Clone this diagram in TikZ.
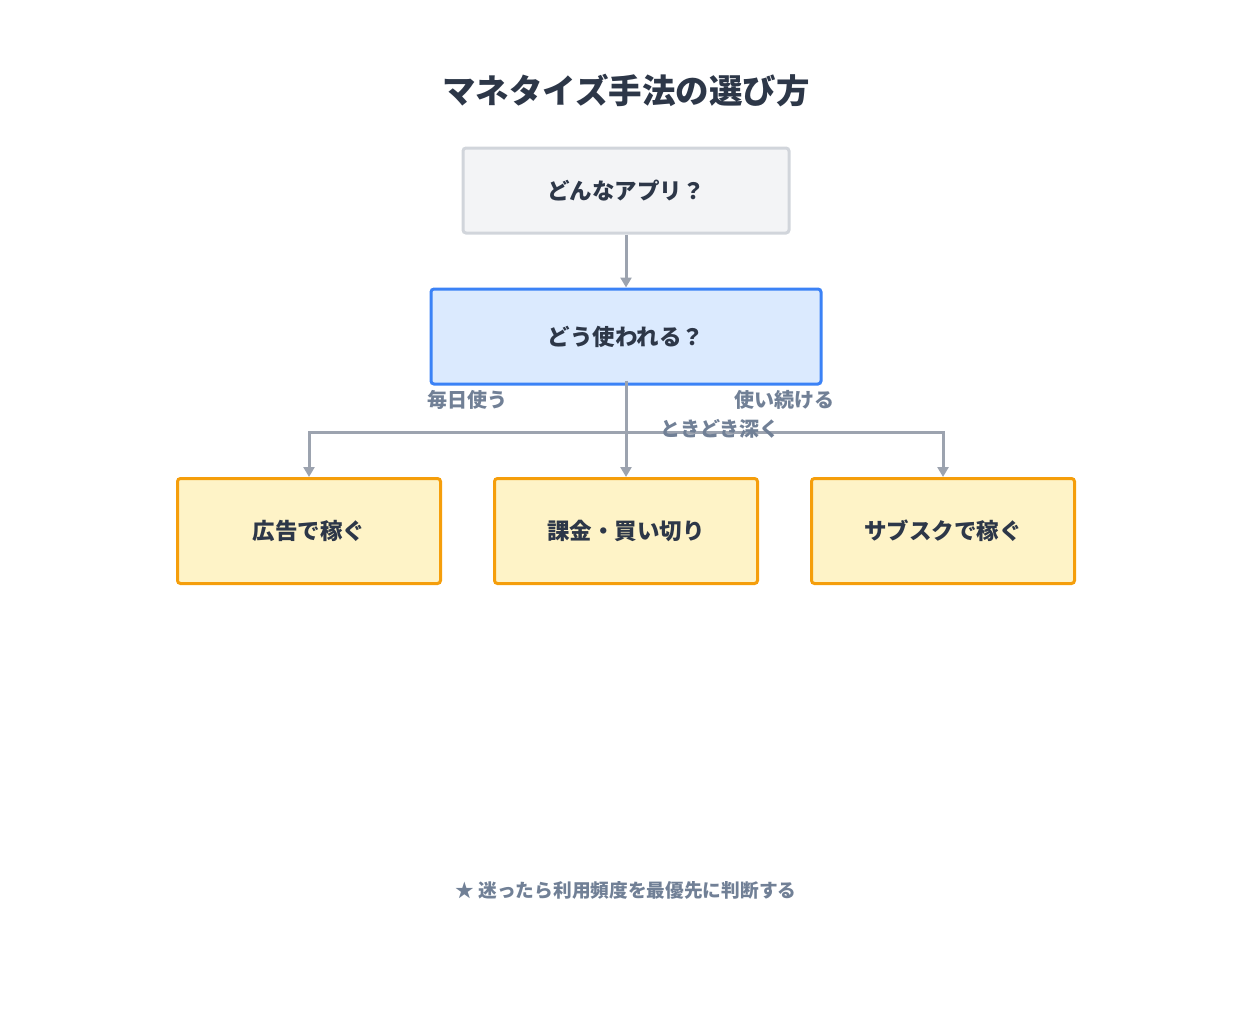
\documentclass[tikz,border=0pt]{standalone}
\usepackage{fontspec}
\setmainfont{Noto Sans CJK JP}
\usepackage{xcolor}
\usepackage{tikz}
\usetikzlibrary{arrows.meta,positioning}
\definecolor{inkc}{HTML}{2D3748}
\definecolor{labc}{HTML}{718096}
\definecolor{linec}{HTML}{9CA3AF}
\definecolor{grayfill}{HTML}{F3F4F6}
\definecolor{grayedge}{HTML}{D1D5DB}
\definecolor{bluefill}{HTML}{DBEAFE}
\definecolor{blueedge}{HTML}{3B82F6}
\definecolor{yelfill}{HTML}{FEF3C7}
\definecolor{yeledge}{HTML}{F59E0B}
\tikzset{
  ar/.style={-{Triangle[length=10pt,width=11pt]},line width=3pt,linec},
  box/.style={draw,line width=3pt,rounded corners=3pt,align=center,inner sep=0pt,font=\fontsize{22.5}{26}\selectfont\bfseries,text=inkc},
  qbox/.style={box,draw=grayedge,fill=grayfill,minimum width=326pt,minimum height=85pt},
  ubox/.style={box,draw=blueedge,fill=bluefill,minimum width=390pt,minimum height=95pt},
  pbox/.style={box,draw=yeledge,fill=yelfill,minimum width=263pt,minimum height=105pt},
  lab/.style={font=\fontsize{20}{24}\selectfont\bfseries,text=labc,inner sep=0pt}
}
\begin{document}
\begin{tikzpicture}[x=1pt,y=-1pt]
\useasboundingbox (0,0) rectangle (1252,1014);
\node[font=\fontsize{33.5}{38}\selectfont\bfseries,text=inkc] (title) at (626,91) {マネタイズ手法の選び方};
\node[qbox] (app) at (626,190.5) {どんなアプリ？};
\node[ubox] (use) at (626,336.5) {どう使われる？};
\node[pbox] (ad) at (309,531) {広告で稼ぐ};
\node[pbox] (buy) at (626,531) {課金・買い切り};
\node[pbox] (sub) at (943,531) {サブスクで稼ぐ};
\coordinate (split) at (626,432);
% connectors
\draw[ar] (app.south) -- (use.north);
\draw[ar] ([yshift=5pt]use.south) -- (buy.north);
\draw[ar] (split) -| (ad.north);
\draw[ar] (split) -| (sub.north);
% branch labels
\node[lab] (daily) at (467,400) {毎日使う};
\node[lab] (keep) at (784,400) {使い続ける};
\node[lab] (deep) at (720,429) {ときどき深く};
\node[font=\fontsize{18.7}{22}\selectfont\bfseries,text=labc] (tip) at (626,890) {★ 迷ったら利用頻度を最優先に判断する};
\end{tikzpicture}
\end{document}
